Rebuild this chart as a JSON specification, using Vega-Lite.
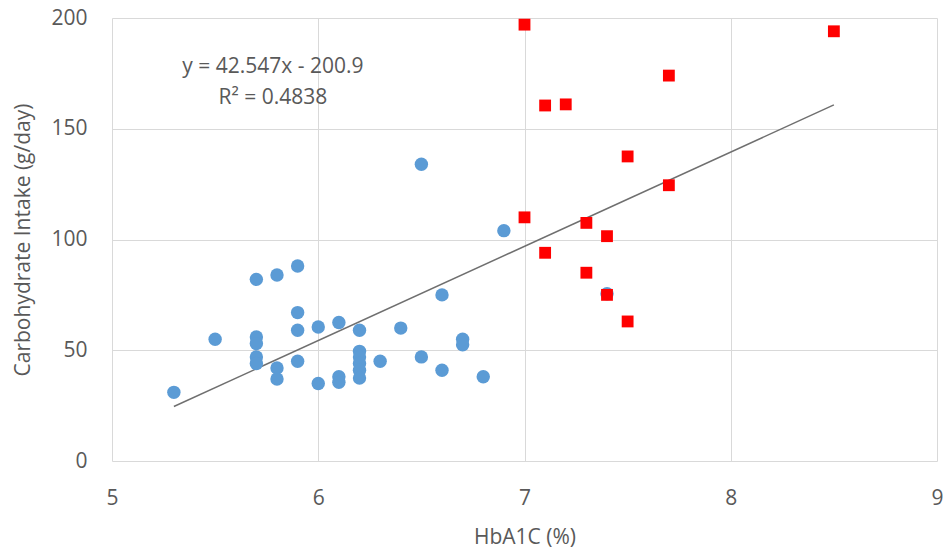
{
  "$schema": "https://vega.github.io/schema/vega-lite/v6.json",
  "width": 825,
  "height": 443,
  "autosize": {"type": "none"},
  "padding": {"left": 112, "top": 18, "right": 7, "bottom": 95},
  "background": "white",
  "config": {
    "view": {"stroke": null},
    "font": "Open Sans",
    "axis": {
      "grid": true,
      "gridColor": "#d9d9d9",
      "gridWidth": 1,
      "domain": false,
      "ticks": false,
      "labelFont": "Open Sans",
      "labelFontSize": 21,
      "labelColor": "#595959",
      "titleFont": "Open Sans",
      "titleFontSize": 21,
      "titleFontWeight": "normal",
      "titleColor": "#595959",
      "labelFlush": false,
      "labelOverlap": false
    }
  },
  "layer": [
    {
      "data": {"values": [{"HbA1C": 5.3, "Carb": 24.6}, {"HbA1C": 8.5, "Carb": 160.75}]},
      "mark": {"type": "line", "color": "#6f6f6f", "strokeWidth": 1.5},
      "encoding": {
        "x": {"field": "HbA1C", "type": "quantitative", "scale": {"domain": [5, 9], "nice": false, "zero": false},
          "axis": {"values": [5, 6, 7, 8, 9], "format": "d", "title": "HbA1C (%)", "labelPadding": 26, "titleY": 76, "titleBaseline": "middle"}},
        "y": {"field": "Carb", "type": "quantitative", "scale": {"domain": [0, 200], "nice": false},
          "axis": {"values": [0, 50, 100, 150, 200], "format": "d", "title": "Carbohydrate Intake (g/day)", "labelPadding": 25, "titleX": -89, "titleY": 221.5, "titleAngle": 270, "titleAlign": "center", "titleBaseline": "middle"}}
      }
    },
    {
      "data": {"values": [
        {"HbA1C": 5.3, "Carb": 31, "group": "A"},
        {"HbA1C": 5.5, "Carb": 55, "group": "A"},
        {"HbA1C": 5.7, "Carb": 82, "group": "A"},
        {"HbA1C": 5.7, "Carb": 56, "group": "A"},
        {"HbA1C": 5.7, "Carb": 53, "group": "A"},
        {"HbA1C": 5.7, "Carb": 47, "group": "A"},
        {"HbA1C": 5.7, "Carb": 44, "group": "A"},
        {"HbA1C": 5.8, "Carb": 84, "group": "A"},
        {"HbA1C": 5.8, "Carb": 42, "group": "A"},
        {"HbA1C": 5.8, "Carb": 37, "group": "A"},
        {"HbA1C": 5.9, "Carb": 88, "group": "A"},
        {"HbA1C": 5.9, "Carb": 67, "group": "A"},
        {"HbA1C": 5.9, "Carb": 59, "group": "A"},
        {"HbA1C": 5.9, "Carb": 45, "group": "A"},
        {"HbA1C": 6.0, "Carb": 60.5, "group": "A"},
        {"HbA1C": 6.0, "Carb": 35, "group": "A"},
        {"HbA1C": 6.1, "Carb": 62.5, "group": "A"},
        {"HbA1C": 6.1, "Carb": 38, "group": "A"},
        {"HbA1C": 6.1, "Carb": 35.5, "group": "A"},
        {"HbA1C": 6.2, "Carb": 59, "group": "A"},
        {"HbA1C": 6.2, "Carb": 49.5, "group": "A"},
        {"HbA1C": 6.2, "Carb": 47, "group": "A"},
        {"HbA1C": 6.2, "Carb": 44, "group": "A"},
        {"HbA1C": 6.2, "Carb": 41, "group": "A"},
        {"HbA1C": 6.2, "Carb": 37.5, "group": "A"},
        {"HbA1C": 6.3, "Carb": 45, "group": "A"},
        {"HbA1C": 6.4, "Carb": 60, "group": "A"},
        {"HbA1C": 6.5, "Carb": 134, "group": "A"},
        {"HbA1C": 6.5, "Carb": 47, "group": "A"},
        {"HbA1C": 6.6, "Carb": 75, "group": "A"},
        {"HbA1C": 6.6, "Carb": 41, "group": "A"},
        {"HbA1C": 6.7, "Carb": 55, "group": "A"},
        {"HbA1C": 6.7, "Carb": 52.5, "group": "A"},
        {"HbA1C": 6.8, "Carb": 38, "group": "A"},
        {"HbA1C": 6.9, "Carb": 104, "group": "A"},
        {"HbA1C": 7.4, "Carb": 75.5, "group": "A"},
        {"HbA1C": 7.0, "Carb": 197, "group": "B"},
        {"HbA1C": 7.1, "Carb": 160.5, "group": "B"},
        {"HbA1C": 7.2, "Carb": 161, "group": "B"},
        {"HbA1C": 7.7, "Carb": 174, "group": "B"},
        {"HbA1C": 7.5, "Carb": 137.5, "group": "B"},
        {"HbA1C": 7.7, "Carb": 124.5, "group": "B"},
        {"HbA1C": 7.0, "Carb": 110, "group": "B"},
        {"HbA1C": 7.3, "Carb": 107.5, "group": "B"},
        {"HbA1C": 7.4, "Carb": 101.5, "group": "B"},
        {"HbA1C": 7.1, "Carb": 94, "group": "B"},
        {"HbA1C": 7.3, "Carb": 85, "group": "B"},
        {"HbA1C": 7.4, "Carb": 75, "group": "B"},
        {"HbA1C": 7.5, "Carb": 63, "group": "B"},
        {"HbA1C": 8.5, "Carb": 194, "group": "B"}
      ]},
      "mark": {"type": "point", "filled": true, "opacity": 1, "strokeWidth": 0},
      "encoding": {
        "x": {"field": "HbA1C", "type": "quantitative"},
        "y": {"field": "Carb", "type": "quantitative"},
        "color": {"field": "group", "type": "nominal", "scale": {"domain": ["A", "B"], "range": ["#5B9BD5", "#FF0000"]}, "legend": null},
        "shape": {"field": "group", "type": "nominal", "scale": {"domain": ["A", "B"], "range": ["circle", "square"]}, "legend": null},
        "size": {"field": "group", "type": "nominal", "scale": {"domain": ["A", "B"], "range": [180, 140]}, "legend": null}
      }
    },
    {
      "data": {"values": [{"label": "y = 42.547x - 200.9"}]},
      "mark": {"type": "text", "fontSize": 21, "color": "#595959", "align": "center", "baseline": "middle", "font": "Open Sans"},
      "encoding": {
        "x": {"datum": 5.78, "type": "quantitative"},
        "y": {"datum": 178, "type": "quantitative"},
        "text": {"field": "label"}
      }
    },
    {
      "data": {"values": [{"label": "R² = 0.4838"}]},
      "mark": {"type": "text", "fontSize": 21, "color": "#595959", "align": "center", "baseline": "middle", "font": "Open Sans"},
      "encoding": {
        "x": {"datum": 5.78, "type": "quantitative"},
        "y": {"datum": 164, "type": "quantitative"},
        "text": {"field": "label"}
      }
    }
  ]
}
